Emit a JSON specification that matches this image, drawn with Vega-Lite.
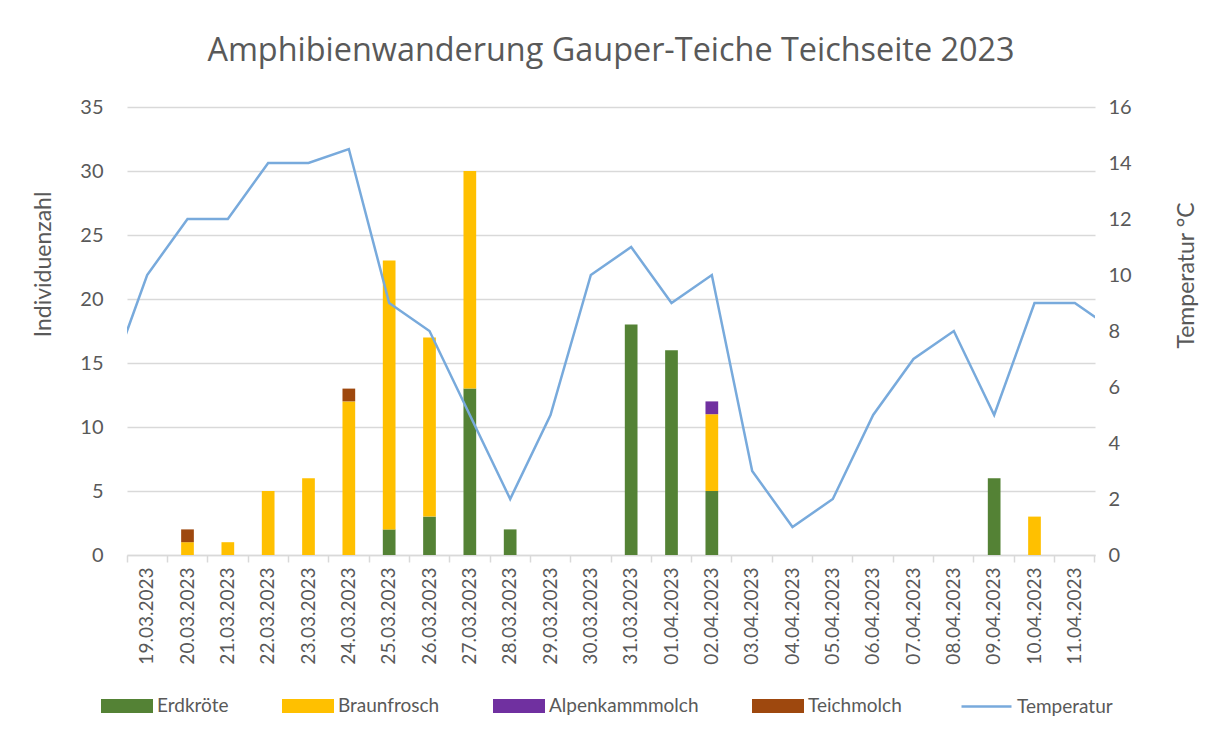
{
  "$schema": "https://vega.github.io/schema/vega-lite/v6.json",
  "width": 968,
  "height": 448,
  "autosize": {"type": "none"},
  "padding": {"left": 127, "top": 107, "right": 117, "bottom": 183},
  "background": "white",
  "title": {
    "text": "Amphibienwanderung Gauper-Teiche Teichseite 2023",
    "font": "Open Sans",
    "fontSize": 32.4,
    "fontWeight": "normal",
    "color": "#595959",
    "anchor": "middle",
    "baseline": "alphabetic",
    "offset": 4
  },
  "config": {
    "view": {"stroke": null},
    "axis": {"labelFont": "Lato", "titleFont": "Lato", "labelColor": "#595959", "titleColor": "#595959", "titleFontWeight": "normal"},
    "legend": {"labelFont": "Lato", "labelColor": "#595959"}
  },
  "datasets": {
    "arten": [
      {"Datum": "20.03.2023", "Art": "Braunfrosch", "Anzahl": 1},
      {"Datum": "20.03.2023", "Art": "Teichmolch", "Anzahl": 1},
      {"Datum": "21.03.2023", "Art": "Braunfrosch", "Anzahl": 1},
      {"Datum": "22.03.2023", "Art": "Braunfrosch", "Anzahl": 5},
      {"Datum": "23.03.2023", "Art": "Braunfrosch", "Anzahl": 6},
      {"Datum": "24.03.2023", "Art": "Braunfrosch", "Anzahl": 12},
      {"Datum": "24.03.2023", "Art": "Teichmolch", "Anzahl": 1},
      {"Datum": "25.03.2023", "Art": "Erdkröte", "Anzahl": 2},
      {"Datum": "25.03.2023", "Art": "Braunfrosch", "Anzahl": 21},
      {"Datum": "26.03.2023", "Art": "Erdkröte", "Anzahl": 3},
      {"Datum": "26.03.2023", "Art": "Braunfrosch", "Anzahl": 14},
      {"Datum": "27.03.2023", "Art": "Erdkröte", "Anzahl": 13},
      {"Datum": "27.03.2023", "Art": "Braunfrosch", "Anzahl": 17},
      {"Datum": "28.03.2023", "Art": "Erdkröte", "Anzahl": 2},
      {"Datum": "31.03.2023", "Art": "Erdkröte", "Anzahl": 18},
      {"Datum": "01.04.2023", "Art": "Erdkröte", "Anzahl": 16},
      {"Datum": "02.04.2023", "Art": "Erdkröte", "Anzahl": 5},
      {"Datum": "02.04.2023", "Art": "Braunfrosch", "Anzahl": 6},
      {"Datum": "02.04.2023", "Art": "Alpenkammmolch", "Anzahl": 1},
      {"Datum": "09.04.2023", "Art": "Erdkröte", "Anzahl": 6},
      {"Datum": "10.04.2023", "Art": "Braunfrosch", "Anzahl": 3}
    ],
    "artenfolge": [
      {"Art": "Erdkröte", "Rang": 1},
      {"Art": "Braunfrosch", "Rang": 2},
      {"Art": "Alpenkammmolch", "Rang": 3},
      {"Art": "Teichmolch", "Rang": 4}
    ],
    "temperatur": [
      {"Datum": "18.03.2023", "Temperatur": 6},
      {"Datum": "19.03.2023", "Temperatur": 10},
      {"Datum": "20.03.2023", "Temperatur": 12},
      {"Datum": "21.03.2023", "Temperatur": 12},
      {"Datum": "22.03.2023", "Temperatur": 14},
      {"Datum": "23.03.2023", "Temperatur": 14},
      {"Datum": "24.03.2023", "Temperatur": 14.5},
      {"Datum": "25.03.2023", "Temperatur": 9},
      {"Datum": "26.03.2023", "Temperatur": 8},
      {"Datum": "27.03.2023", "Temperatur": 5},
      {"Datum": "28.03.2023", "Temperatur": 2},
      {"Datum": "29.03.2023", "Temperatur": 5},
      {"Datum": "30.03.2023", "Temperatur": 10},
      {"Datum": "31.03.2023", "Temperatur": 11},
      {"Datum": "01.04.2023", "Temperatur": 9},
      {"Datum": "02.04.2023", "Temperatur": 10},
      {"Datum": "03.04.2023", "Temperatur": 3},
      {"Datum": "04.04.2023", "Temperatur": 1},
      {"Datum": "05.04.2023", "Temperatur": 2},
      {"Datum": "06.04.2023", "Temperatur": 5},
      {"Datum": "07.04.2023", "Temperatur": 7},
      {"Datum": "08.04.2023", "Temperatur": 8},
      {"Datum": "09.04.2023", "Temperatur": 5},
      {"Datum": "10.04.2023", "Temperatur": 9},
      {"Datum": "11.04.2023", "Temperatur": 9},
      {"Datum": "12.04.2023", "Temperatur": 8}
    ]
  },
  "layer": [
    {
      "data": {"name": "arten"},
      "transform": [
        {"lookup": "Art", "from": {"data": {"name": "artenfolge"}, "key": "Art", "fields": ["Rang"]}}
      ],
      "mark": {"type": "bar"},
      "encoding": {
        "x": {
          "field": "Datum",
          "type": "nominal",
          "scale": {
            "type": "band",
            "domain": ["19.03.2023","20.03.2023","21.03.2023","22.03.2023","23.03.2023","24.03.2023","25.03.2023","26.03.2023","27.03.2023","28.03.2023","29.03.2023","30.03.2023","31.03.2023","01.04.2023","02.04.2023","03.04.2023","04.04.2023","05.04.2023","06.04.2023","07.04.2023","08.04.2023","09.04.2023","10.04.2023","11.04.2023"],
            "paddingInner": 0.685,
            "paddingOuter": 0.3425
          },
          "axis": {
            "orient": "bottom",
            "title": null,
            "labelAngle": 270,
            "labelAlign": "right",
            "labelBaseline": "middle",
            "labelFontSize": 19,
            "labelPadding": 12,
            "ticks": false,
            "domain": true,
            "domainColor": "#D9D9D9",
            "domainWidth": 1.5,
            "grid": false
          }
        },
        "y": {
          "field": "Anzahl",
          "type": "quantitative",
          "stack": "zero",
          "scale": {"domain": [0, 35], "nice": false},
          "axis": {
            "orient": "left",
            "title": "Individuenzahl",
            "titleFontSize": 23,
            "titleAngle": 270,
            "titleBaseline": "bottom",
            "titleAlign": "center",
            "titleX": -72,
            "titleY": 157,
            "values": [0, 5, 10, 15, 20, 25, 30, 35],
            "labelFontSize": 20,
            "labelPadding": 24,
            "ticks": false,
            "domain": false,
            "grid": true,
            "gridColor": "#D9D9D9",
            "gridWidth": 1.5
          }
        },
        "order": {"field": "Rang", "type": "quantitative", "sort": "ascending"},
        "color": {
          "field": "Art",
          "type": "nominal",
          "sort": ["Erdkröte", "Braunfrosch", "Alpenkammmolch", "Teichmolch"],
          "scale": {
            "domain": ["Erdkröte", "Braunfrosch", "Alpenkammmolch", "Teichmolch"],
            "range": ["#548235", "#FFC000", "#7030A0", "#9E480E"]
          },
          "legend": {
            "orient": "none",
            "legendX": -26,
            "legendY": 573,
            "direction": "horizontal",
            "columns": 4,
            "title": null,
            "symbolType": "M-1,-0.27H1V0.27H-1Z",
            "symbolSize": 2704,
            "symbolStrokeWidth": 0,
            "labelFontSize": 19,
            "labelOffset": 4,
            "columnPadding": 53,
            "gridAlign": "none"
          }
        }
      }
    },
    {
      "data": {"name": "temperatur"},
      "mark": {"type": "line", "strokeWidth": 2.5, "clip": true},
      "encoding": {
        "x": {
          "field": "Datum",
          "type": "nominal",
          "sort": null,
          "scale": {
            "type": "band",
            "domain": ["18.03.2023","19.03.2023","20.03.2023","21.03.2023","22.03.2023","23.03.2023","24.03.2023","25.03.2023","26.03.2023","27.03.2023","28.03.2023","29.03.2023","30.03.2023","31.03.2023","01.04.2023","02.04.2023","03.04.2023","04.04.2023","05.04.2023","06.04.2023","07.04.2023","08.04.2023","09.04.2023","10.04.2023","11.04.2023","12.04.2023"],
            "range": [-40.333, 1008.333],
            "paddingInner": 0,
            "paddingOuter": 0
          },
          "axis": {
            "orient": "bottom",
            "title": null,
            "labels": false,
            "domain": false,
            "grid": false,
            "ticks": true,
            "tickColor": "#D9D9D9",
            "tickWidth": 1.5,
            "tickSize": 7,
            "bandPosition": 0,
            "values": ["19.03.2023","20.03.2023","21.03.2023","22.03.2023","23.03.2023","24.03.2023","25.03.2023","26.03.2023","27.03.2023","28.03.2023","29.03.2023","30.03.2023","31.03.2023","01.04.2023","02.04.2023","03.04.2023","04.04.2023","05.04.2023","06.04.2023","07.04.2023","08.04.2023","09.04.2023","10.04.2023","11.04.2023","12.04.2023"]
          }
        },
        "y": {
          "field": "Temperatur",
          "type": "quantitative",
          "scale": {"domain": [0, 16], "nice": false},
          "axis": {
            "orient": "right",
            "title": "Temperatur °C",
            "titleFontSize": 23,
            "titleAngle": 270,
            "titleBaseline": "top",
            "titleAlign": "center",
            "titleX": 80,
            "titleY": 168,
            "values": [0, 2, 4, 6, 8, 10, 12, 14, 16],
            "labelFontSize": 20,
            "labelPadding": 13,
            "ticks": false,
            "domain": false,
            "grid": false
          }
        },
        "stroke": {
          "datum": "Temperatur",
          "type": "nominal",
          "scale": {"domain": ["Temperatur"], "range": ["#78AADC"]},
          "legend": {
            "orient": "none",
            "legendX": 833,
            "legendY": 573,
            "title": null,
            "symbolType": "stroke",
            "symbolSize": 2500,
            "symbolStrokeWidth": 2.5,
            "labelFontSize": 19,
            "labelOffset": 4
          }
        }
      }
    }
  ],
  "resolve": {"scale": {"x": "independent", "y": "independent"}}
}
